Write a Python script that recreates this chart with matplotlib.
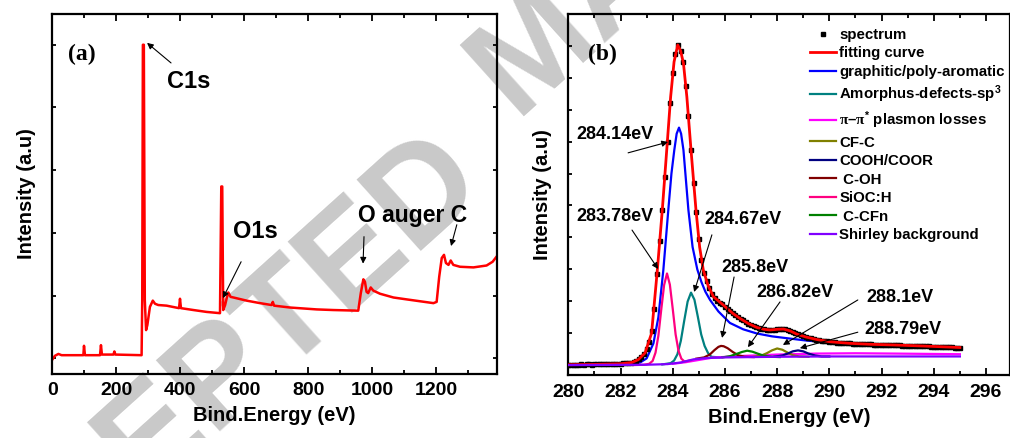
import numpy as np
import matplotlib
matplotlib.use('Agg')
import matplotlib.pyplot as plt

plt.rcParams['font.family'] = 'Liberation Sans'
plt.rcParams['font.weight'] = 'bold'
plt.rcParams['mathtext.fontset'] = 'custom'
plt.rcParams['mathtext.rm'] = 'Liberation Sans:bold'
plt.rcParams['mathtext.it'] = 'Liberation Serif:bold'
plt.rcParams['mathtext.bf'] = 'Liberation Sans:bold'
plt.rcParams['mathtext.default'] = 'rm'

# ---- (a) survey spectrum ----
survey_x = [0, 8, 19, 29, 97, 99, 102, 149, 152, 155, 191, 194, 197, 279, 281, 283, 286, 289,
            293, 297, 305, 314, 321, 331, 357, 396, 399, 402, 441, 482, 524, 528, 531, 534,
            540, 545, 550, 557, 566, 607, 649, 685, 689, 693, 743, 826, 878, 956, 964, 972,
            977, 982, 987, 995, 1003, 1024, 1066, 1107, 1149, 1191, 1201, 1209, 1217, 1224,
            1230, 1238, 1245, 1253, 1274, 1316, 1357, 1376, 1388]
survey_y = [-0.02, 0.04, 0.07, 0.05, 0.05, 0.20, 0.05, 0.05, 0.21, 0.06, 0.06, 0.11, 0.06,
            0.05, 0.93, 5.0, 5.0, 0.93, 0.45, 0.53, 0.82, 0.92, 0.87, 0.85, 0.84, 0.80, 0.95,
            0.80, 0.77, 0.74, 0.72, 2.74, 2.74, 0.77, 0.85, 0.96, 1.05, 0.98, 0.97, 0.92, 0.88,
            0.85, 0.90, 0.84, 0.81, 0.78, 0.77, 0.76, 1.04, 1.26, 1.22, 1.06, 1.04, 1.13, 1.08,
            1.03, 0.97, 0.94, 0.91, 0.88, 0.90, 1.30, 1.60, 1.65, 1.52, 1.49, 1.56, 1.49, 1.46,
            1.45, 1.48, 1.54, 1.62]

# ---- (b) C1s high resolution ----
spec_x = np.round(np.arange(2800, 2951) / 10.0, 1)
spec_y = [0.1, 0.1, 0.0, 0.1, 0.1, 0.2, 0.1, 0.2, 0.2, 0.1,
          0.2, 0.2, 0.3, 0.2, 0.3, 0.3, 0.3, 0.4, 0.3, 0.4,
          0.4, 0.5, 0.5, 0.6, 0.8, 1.0, 1.3, 1.8, 2.5, 3.4,
          4.9, 7.2, 10.8, 17.5, 28.5, 39.0, 48.6, 59.0, 70.0, 82.0,
          91.5, 97.5, 100.3, 98.5, 95.0, 87.5, 78.0, 67.4, 57.0, 48.0,
          39.5, 33.0, 29.0, 26.2, 24.0, 22.2, 21.0, 20.2, 19.4, 19.0,
          18.2, 17.5, 16.9, 16.2, 15.7, 15.1, 14.5, 14.0, 13.4, 13.0,
          12.6, 12.2, 11.8, 11.6, 11.3, 11.2, 11.1, 11.0, 11.1, 11.1,
          11.2, 11.3, 11.3, 11.2, 11.0, 10.7, 10.3, 9.9, 9.6, 9.3,
          9.0, 8.8, 8.6, 8.4, 8.2, 8.0, 7.8, 7.6, 7.5, 7.4,
          7.3, 7.2, 7.1, 7.0, 7.0, 6.9, 6.9, 6.8, 6.8, 6.7,
          6.7, 6.6, 6.6, 6.6, 6.5, 6.5, 6.5, 6.4, 6.4, 6.4,
          6.3, 6.3, 6.3, 6.3, 6.3, 6.2, 6.2, 6.2, 6.1, 6.1,
          6.1, 6.1, 6.0, 6.0, 6.0, 6.0, 5.9, 5.9, 5.9, 5.8,
          5.8, 5.8, 5.7, 5.7, 5.7, 5.6, 5.6, 5.6, 5.5, 5.5,
          5.5]

fit_x = [280.0, 281.0, 282.0, 282.43, 282.68, 282.94, 283.19, 283.41, 283.6, 283.77, 283.92,
         284.05, 284.19, 284.3, 284.41, 284.54, 284.7, 284.89, 285.03, 285.17, 285.35, 285.56,
         285.94, 286.3, 286.58, 286.9, 287.22, 287.5, 287.73, 288.0, 288.24, 288.5, 288.75,
         289.1, 289.52, 290.03, 290.8, 291.6, 292.45, 293.5, 295.0]
fit_y = [0.1, 0.2, 0.4, 0.8, 1.7, 3.8, 10.0, 29.8, 48.6, 67.4, 84.1, 95.0, 100.3, 98.5, 94.6,
         84.1, 67.4, 48.6, 37.0, 29.8, 25.0, 21.4, 18.8, 16.2, 14.6, 13.0, 11.8, 11.2, 11.0,
         11.2, 11.3, 10.7, 9.7, 8.8, 8.0, 7.3, 6.8, 6.5, 6.3, 6.0, 5.5]

graph_x = [280.0, 281.5, 282.3, 282.75, 283.0, 283.26, 283.45, 283.64, 283.83, 283.95, 284.06,
           284.15, 284.24, 284.32, 284.41, 284.6, 284.76, 284.94, 285.1, 285.25, 285.43, 285.75,
           286.19, 286.7, 287.22, 287.8, 288.49, 289.1, 289.77, 290.5, 291.5, 292.5, 293.5, 295.0]
graph_y = [0.0, 0.1, 0.3, 0.8, 2.1, 6.8, 15.0, 29.8, 48.6, 60.0, 67.4, 72.5, 74.4, 72.5, 67.4,
           48.6, 37.0, 30.0, 26.0, 23.0, 20.4, 16.8, 13.2, 11.2, 9.9, 9.0, 8.3, 7.7, 7.2, 6.8,
           6.4, 6.1, 5.8, 5.1]

amor_x = [283.6, 283.92, 284.05, 284.18, 284.31, 284.44, 284.57, 284.7, 284.83, 284.96, 285.09,
          285.22, 285.35, 285.48, 285.8]
amor_y = [0.2, 0.6, 1.4, 3.4, 7.6, 13.9, 19.9, 22.7, 20.5, 15.2, 9.6, 6.0, 3.8, 2.6, 2.4]

plasmon_x = [284.0, 284.5, 285.5, 286.5, 288.0, 289.5, 291.0, 292.5, 295.0]
plasmon_y = [0.4, 0.9, 2.3, 2.8, 3.3, 3.6, 3.7, 3.6, 3.4]

cfc_x = [287.1, 287.4, 287.6, 287.8, 288.0, 288.2, 288.4, 288.6, 288.85, 289.2]
cfc_y = [2.6, 3.0, 3.7, 4.6, 5.2, 4.8, 3.9, 3.1, 2.7, 2.6]

cooh_x = [287.9, 288.2, 288.4, 288.6, 288.8, 289.0, 289.2, 289.45, 289.7, 290.0]
cooh_y = [2.65, 3.0, 3.6, 4.3, 4.6, 4.3, 3.6, 3.0, 2.7, 2.7]

coh_x = [284.9, 285.2, 285.42, 285.6, 285.75, 285.85, 285.95, 286.1, 286.3, 286.5, 286.75, 287.1]
coh_y = [2.0, 2.4, 3.3, 4.7, 5.7, 6.0, 5.9, 5.3, 4.1, 3.1, 2.6, 2.5]

sioc_x = [282.5, 282.9, 283.1, 283.23, 283.34, 283.45, 283.56, 283.67, 283.78, 283.89, 284.0,
          284.11, 284.22, 284.33, 284.45, 284.7]
sioc_y = [0.0, 0.1, 0.4, 1.3, 3.9, 9.2, 17.4, 25.1, 28.7, 25.2, 17.6, 9.6, 4.5, 2.0, 1.1, 1.5]

ccfn_x = [285.9, 286.2, 286.45, 286.65, 286.85, 287.05, 287.25, 287.5, 287.8, 288.1]
ccfn_y = [2.4, 2.8, 3.5, 4.1, 4.5, 4.2, 3.6, 2.9, 2.6, 2.5]

shirley_x = [280.0, 283.0, 283.8, 284.3, 284.8, 285.3, 286.0, 288.0, 290.0, 295.0]
shirley_y = [0.0, 0.1, 0.3, 0.8, 1.8, 2.2, 2.4, 2.6, 2.7, 2.7]

fig = plt.figure(figsize=(10.1, 4.38), dpi=100)

# watermark behind both panels (two words placed separately)
wm = dict(fontsize=100, fontweight='bold', color='#c9c9c9', rotation=42,
          rotation_mode='anchor', va='baseline', zorder=-5)
fig.text(0.203, -0.0105, 'ACCEPTED', ha='center', **wm)
fig.text(0.5099, 0.7338, 'MANUSCRIPT', ha='left', **wm)

ax1 = fig.add_axes([0.0518, 0.1461, 0.4404, 0.8219])
ax2 = fig.add_axes([0.5627, 0.1432, 0.4373, 0.8248])
for ax in (ax1, ax2):
    ax.set_facecolor('none')
    for s in ax.spines.values():
        s.set_linewidth(1.6)
    ax.tick_params(which='both', direction='in', top=True, width=1.3, labelsize=14, pad=6)
    ax.tick_params(which='major', length=5)
    ax.tick_params(which='minor', length=3)
    ax.tick_params(axis='y', labelleft=False, length=3)

# panel a
ax1.plot(survey_x, survey_y, color='#ff0000', lw=1.8)
ax1.set_xlim(0, 1390)
ax1.set_ylim(-0.25, 5.49)
ax1.set_xticks(range(0, 1390, 200))
ax1.set_xticks(range(100, 1390, 200), minor=True)
ax1.set_yticks(range(0, 6))
ax1.tick_params(axis='y', right=True)
ax1.set_xlabel('Bind.Energy (eV)', fontsize=14.5, fontweight='bold', labelpad=5)
ax1.set_ylabel('Intensity (a.u)', fontsize=14.5, fontweight='bold', labelpad=12)
ax1.text(0.035, 0.889, '(a)', transform=ax1.transAxes, fontsize=17, fontweight='bold',
         family='Liberation Serif', va='center')

arr = dict(arrowstyle='-|>', color='black', lw=0.8, mutation_scale=9, shrinkA=0, shrinkB=0)
ax1.text(358, 4.42, 'C1s', fontsize=17, va='center')
ax1.annotate('', xy=(296, 5.03), xytext=(371, 4.71), arrowprops=arr)
ax1.text(565, 2.03, 'O1s', fontsize=17, va='center')
ax1.annotate('', xy=(533, 0.96), xytext=(590, 1.54), arrowprops=arr)
ax1.text(955, 2.27, 'O auger C', fontsize=16.5, va='center')
ax1.annotate('', xy=(971, 1.51), xytext=(974, 1.94), arrowprops=arr)
ax1.annotate('', xy=(1246, 1.79), xytext=(1264, 2.13), arrowprops=arr)

# panel b
lw = 1.6
ax2.plot(graph_x, graph_y, color='#0000ff', lw=lw, label='graphitic/poly-aromatic')
ax2.plot(amor_x, amor_y, color='#008080', lw=lw, label='Amorphus-defects-sp$^3$')
ax2.plot(plasmon_x, plasmon_y, color='#ff00ff', lw=lw,
         label=r'$\mathit{\pi}$–$\mathit{\pi}^{*}$ plasmon losses')
ax2.plot(cfc_x, cfc_y, color='#808000', lw=lw, label='CF-C')
ax2.plot(cooh_x, cooh_y, color='#000080', lw=lw, label='COOH/COOR')
ax2.plot(coh_x, coh_y, color='#800000', lw=lw, label=' C-OH')
ax2.plot(sioc_x, sioc_y, color='#ff0080', lw=lw, label='SiOC:H')
ax2.plot(ccfn_x, ccfn_y, color='#008000', lw=lw, label=' C-CFn')
ax2.plot(spec_x, spec_y, 's', color='black', ms=3.2, label='spectrum', zorder=2.5)
ax2.plot(fit_x, fit_y, color='#ff0000', lw=2.0, label='fitting curve', zorder=2.6)
ax2.plot(shirley_x, shirley_y, color='#8000ff', lw=lw, label='Shirley background', zorder=2.7)

ax2.set_xlim(280, 296.92)
ax2.set_ylim(-3.2, 110)
ax2.set_xticks(range(280, 297, 2))
ax2.set_xticks(range(281, 297, 2), minor=True)
ax2.set_yticks(range(0, 101, 10))
ax2.set_xlabel('Bind.Energy (eV)', fontsize=14.5, fontweight='bold', labelpad=5)
ax2.set_ylabel('Intensity (a.u)', fontsize=14.5, fontweight='bold', labelpad=12)
ax2.text(0.0446, 0.889, '(b)', transform=ax2.transAxes, fontsize=17, fontweight='bold',
         family='Liberation Serif', va='center')

peak_labels = ['284.14eV', '283.78eV', '284.67eV', '285.8eV', '286.82eV', '288.1eV', '288.79eV']
label_pos = [(280.32, 72.1), (280.32, 46.4), (285.23, 45.5), (285.85, 30.7), (287.19, 22.6),
             (291.40, 21.3), (291.36, 11.0)]
arrow_tail = [(282.29, 66.5), (282.44, 42.3), (285.50, 40.8), (286.35, 27.6), (288.11, 19.8),
              (291.09, 20.4), (291.09, 10.3)]
arrow_tip = [(283.82, 69.9), (283.44, 30.1), (284.82, 22.9), (285.89, 8.5), (286.88, 5.6),
             (288.22, 6.3), (288.87, 5.3)]
for lab, p, t0, t1 in zip(peak_labels, label_pos, arrow_tail, arrow_tip):
    ax2.text(p[0], p[1], lab, fontsize=13, va='center')
    ax2.annotate('', xy=t1, xytext=t0, arrowprops=arr)

h, l = ax2.get_legend_handles_labels()
order = ['spectrum', 'fitting curve', 'graphitic/poly-aromatic', 'Amorphus-defects-sp$^3$',
         r'$\mathit{\pi}$–$\mathit{\pi}^{*}$ plasmon losses', 'CF-C', 'COOH/COOR', ' C-OH',
         'SiOC:H', ' C-CFn', 'Shirley background']
hd = dict(zip(l, h))
fig.legend([hd[k] for k in order], order, loc='upper left', bbox_to_anchor=(810 / 1010, 1 - 28 / 438),
           frameon=False, fontsize=10.8, labelspacing=0.3, handlelength=1.75, handletextpad=0.2,
           borderpad=0, borderaxespad=0, markerscale=0.8)

fig.savefig('out.png', dpi=100)
